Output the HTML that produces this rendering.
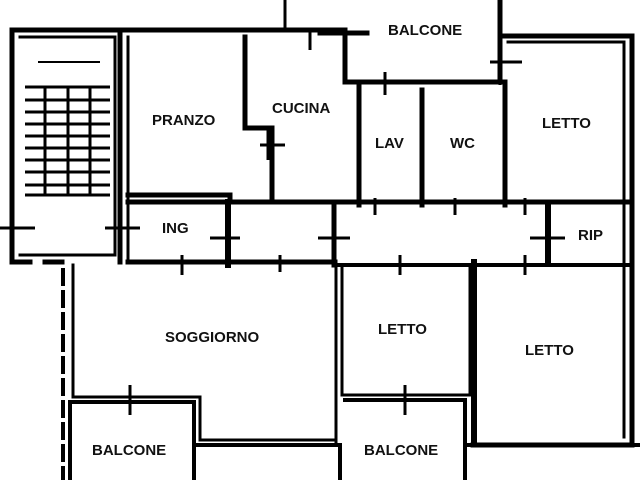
<!DOCTYPE html>
<html><head><style>
html,body{margin:0;padding:0;background:#fff;}
svg{display:block}
text{font-family:"Liberation Sans",sans-serif;font-size:15px;font-weight:bold;fill:#111;}
</style></head><body>
<svg width="640" height="480" viewBox="0 0 640 480" xmlns="http://www.w3.org/2000/svg">
<g stroke="#000" fill="none" stroke-width="5" stroke-linecap="square">
<path d="M12 30 H345 V82 H505 V205"/>
<path d="M12 30 V262 H30"/>
<path d="M45 262 H62"/>
<path d="M20 37 H115 V255 H20" stroke-width="3"/>
<path d="M120 30 V262"/>
<path d="M128 37 V262" stroke-width="3"/>
<path d="M245 37 V128 H272 V202"/>
<path d="M128 195 H230 V202"/>
<path d="M128 202 H628"/>
<path d="M128 262 H335"/>
<path d="M335 265 H628" stroke-width="4"/>
<path d="M228 202 V265" stroke-width="6"/>
<path d="M334 205 V265"/>
<path d="M548 205 V262" stroke-width="6"/>
<path d="M359 85 V205"/>
<path d="M422 90 V205"/>
<path d="M500 0 V80"/>
<path d="M500 36 H632 V445 H473"/>
<path d="M508 42 H624 V437" stroke-width="3"/>
<path d="M320 33 H367"/>
<path d="M285 0 V30" stroke-width="3"/>
<path d="M63 270 V480" stroke-dasharray="14 8" stroke-width="4"/>
<path d="M73 265 V397 H200 V440 H335" stroke-width="3"/>
<path d="M336 262 V442" stroke-width="3"/>
<path d="M342 265 V395 H470 V265" stroke-width="3"/>
<path d="M474 262 V440" stroke-width="6"/>
<path d="M70 480 V402 H194 V480" stroke-width="4"/>
<path d="M194 445 H340 V480" stroke-width="4"/>
<path d="M345 400 H465 V480" stroke-width="4"/>
<path d="M465 445 H640" stroke-width="4"/>
</g>
<g stroke="#000" stroke-width="3">
<path d="M260 145 H285 M268 130 V160"/>
<path d="M0 228 H35 M105 228 H140"/>
<path d="M210 238 H240 M318 238 H350"/>
<path d="M530 238 H565"/>
<path d="M490 62 H522 M500 55 V85"/>
<path d="M310 28 V50 M385 72 V95"/>
<path d="M130 385 V415 M405 385 V415"/>
<path d="M375 198 V215 M455 198 V215 M525 198 V215"/>
<path d="M182 255 V275 M280 255 V272 M400 255 V275 M525 255 V275"/>
</g>
<g stroke="#000" stroke-width="3">
<path d="M25 87 H110 M25 100 H110 M25 112 H110 M25 124 H110 M25 136 H110 M25 148 H110 M25 160 H110 M25 172 H110 M25 185 H110 M25 195 H110"/>
<path d="M45 87 V195 M68 87 V195 M90 87 V195"/>
<path d="M38 62 H100" stroke-width="2"/>
</g>
<text x="152" y="125">PRANZO</text>
<text x="272" y="113">CUCINA</text>
<text x="375" y="148">LAV</text>
<text x="450" y="148">WC</text>
<text x="542" y="128">LETTO</text>
<text x="388" y="35">BALCONE</text>
<text x="162" y="233">ING</text>
<text x="578" y="240">RIP</text>
<text x="165" y="342">SOGGIORNO</text>
<text x="378" y="334">LETTO</text>
<text x="525" y="355">LETTO</text>
<text x="92" y="455">BALCONE</text>
<text x="364" y="455">BALCONE</text>
</svg>
</body></html>
